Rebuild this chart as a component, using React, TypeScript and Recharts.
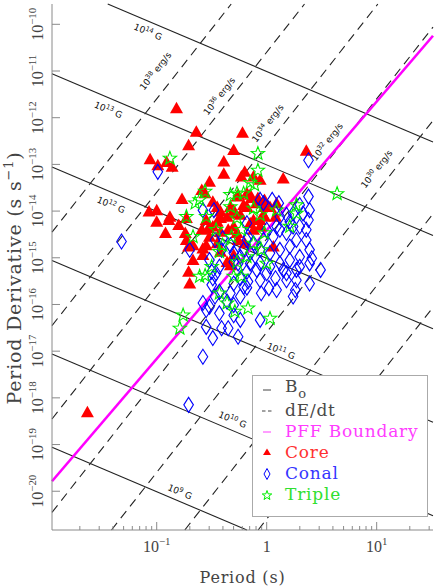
import React from 'react';
import { ScatterChart, Scatter, XAxis, YAxis, ReferenceLine, Legend } from 'recharts';

// [log10 P (s), log10 Pdot (s/s)]
const core: [number, number][] = [
  [-0.82, -11.80], [-0.64, -12.30], [-0.22, -12.32], [-0.71, -12.59], [-1.06, -12.89], [-0.99, -13.02],
  [-0.91, -12.95], [-0.86, -13.05], [-0.30, -12.69], [-0.39, -12.94], [-0.39, -13.20], [-0.52, -13.37],
  [-0.56, -13.62], [-0.20, -13.16], [-0.23, -13.26], [-0.12, -13.26], [-0.06, -13.33], [0.15, -13.30],
  [0.36, -12.71], [-0.77, -13.74], [-0.27, -13.69], [-0.18, -13.62], [-0.59, -13.55], [-0.26, -13.65],
  [-0.14, -13.72], [-0.08, -13.72], [-0.33, -13.91], [-0.18, -13.91], [-0.09, -13.83], [0.03, -13.91],
  [-0.42, -14.01], [-0.30, -13.98], [-0.49, -13.80], [-0.42, -14.15], [-0.36, -14.12], [-0.24, -14.08],
  [-0.55, -14.19], [-0.49, -14.33], [-0.30, -14.33], [-0.15, -14.26], [-0.06, -14.19], [-0.02, -14.12],
  [-0.59, -14.40], [-0.42, -14.44], [-0.27, -14.47], [-0.12, -14.40], [-0.52, -14.55], [-1.00, -14.23],
  [-0.89, -14.19], [-0.80, -14.30], [-0.92, -14.47], [-0.74, -14.47], [-0.53, -14.37], [-0.45, -14.23],
  [-0.45, -14.69], [-0.35, -14.40], [-0.29, -14.05], [-0.21, -13.87], [-0.15, -13.65], [-0.02, -13.91],
  [-0.03, -14.08], [-0.12, -14.19], [-0.06, -14.33], [0.08, -14.12], [-0.73, -14.62], [-0.67, -14.73],
  [-0.58, -14.80], [-0.42, -14.87], [-0.67, -15.05], [-0.71, -15.30], [-0.36, -15.09], [-0.30, -14.94],
  [-0.26, -14.62], [-0.20, -14.69], [-1.00, -13.98], [-1.07, -14.01], [-0.73, -14.15], [-0.71, -14.76],
  [-0.70, -15.55], [-0.58, -14.94], [-0.55, -14.73], [0.06, -14.76], [-0.33, -15.16], [-0.02, -13.76],
  [0.09, -13.83], [-1.63, -18.31], [-0.88, -14.12], [-0.45, -13.91],
];

const conal: [number, number][] = [
  [-0.49, -15.44], [-0.50, -15.58], [-0.58, -15.97], [-0.55, -16.12], [-0.47, -15.83], [-0.43, -15.73],
  [-0.33, -15.76], [-0.36, -15.94], [-0.30, -16.01], [-0.24, -15.83], [-0.21, -15.62], [-0.24, -15.44],
  [-0.17, -15.51], [-0.41, -16.51], [-0.49, -16.72], [-0.35, -16.51], [-0.26, -16.69], [-0.24, -16.33],
  [-0.30, -16.23], [-0.43, -16.19], [-0.58, -17.12], [-0.71, -18.15], [-0.06, -16.33], [-0.05, -15.76],
  [0.02, -15.65], [0.08, -15.44], [0.00, -15.33], [-0.09, -15.26], [0.15, -15.26], [0.24, -15.83],
  [0.26, -15.69], [0.18, -15.48], [0.30, -15.19], [0.39, -15.12], [0.49, -15.26], [-0.18, -15.30],
  [-0.15, -15.12], [-0.26, -15.12], [0.38, -12.91], [0.38, -13.69], [0.30, -13.87], [0.24, -14.05],
  [0.33, -14.05], [0.38, -14.19], [0.36, -14.40], [0.30, -14.33], [0.24, -14.33], [0.18, -14.47],
  [0.21, -14.23], [0.12, -14.12], [0.09, -14.33], [0.06, -14.55], [0.00, -14.40], [-0.03, -14.62],
  [-0.06, -14.83], [-0.12, -14.69], [-0.18, -14.62], [-0.21, -14.83], [-0.15, -14.90], [-0.24, -14.98],
  [-0.30, -14.90], [0.03, -14.90], [0.12, -14.83], [0.21, -14.76], [0.27, -14.62], [0.36, -14.62],
  [0.39, -14.83], [0.30, -14.98], [0.21, -15.05], [0.12, -15.12], [0.03, -15.19], [-0.06, -15.12],
  [-0.30, -15.55], [-0.18, -15.64], [-0.06, -15.48], [0.18, -15.33], [0.27, -15.26], [0.41, -15.01],
  [0.09, -15.69], [-0.46, -15.33], [-0.43, -15.19], [-0.50, -15.30], [-0.52, -16.05], [-0.55, -16.48],
  [-1.32, -14.65], [-0.99, -13.16], [-0.58, -13.98], [-0.48, -13.98], [-0.06, -13.76], [-0.18, -14.26],
  [-0.70, -14.83], [-0.41, -14.83], [-0.33, -14.73], [0.11, -13.83], [0.39, -13.98], [0.18, -14.08],
  [0.12, -14.40], [-0.47, -14.62], [-0.40, -14.58], [-0.52, -15.05], [-0.30, -15.09], [-0.17, -14.55],
  [-0.03, -13.83], [0.05, -13.76], [0.39, -15.55], [0.27, -15.48],
];

const triple: [number, number][] = [
  [-0.88, -12.87], [-0.08, -12.77], [-0.08, -13.13], [-0.15, -13.39], [-0.11, -13.44], [-0.56, -13.58],
  [0.64, -13.63], [-0.33, -13.65], [-0.27, -13.62], [-0.65, -13.83], [-0.21, -13.62], [-0.12, -13.94],
  [-0.55, -14.12], [-0.27, -14.15], [-0.06, -14.08], [0.09, -13.98], [0.27, -14.05], [0.21, -14.33],
  [-0.73, -14.12], [-0.33, -13.91], [-0.46, -14.40], [-0.67, -14.55], [-0.40, -14.73], [-0.32, -14.55],
  [-0.23, -14.40], [-0.12, -14.69], [-0.02, -14.47], [-0.18, -14.98], [-0.27, -15.09], [-0.50, -15.19],
  [-0.61, -15.40], [-0.76, -16.23], [-0.79, -16.51], [-0.43, -15.76], [-0.36, -15.97], [-0.29, -16.15],
  [-0.17, -16.08], [0.03, -16.30], [-0.23, -15.40], [0.00, -15.12], [-0.61, -13.76], [-0.56, -15.38],
  [0.27, -13.87], [-0.30, -15.40], [-0.43, -14.87], [-0.05, -14.83],
];

// constant-B lines (log10 G) and spin-down luminosity lines (log10 erg/s)
const bFields = [9, 10, 11, 12, 13, 14];
const edots = [26, 28, 30, 32, 34, 36, 38];
// PFF boundary, two points
const pffBoundary: [number, number][] = [[-1.95, -19.78], [1.51, -10.25]];

// where the line labels sit
const bLabels = [
  { exp: 14, at: [-1.08, -10.165] }, { exp: 13, at: [-1.44, -11.835] }, { exp: 12, at: [-1.415, -13.87] },
  { exp: 11, at: [0.13, -17.0] }, { exp: 10, at: [-0.31, -18.47] }, { exp: 9, at: [-0.79, -20.015] },
];
const edotLabels = [
  { exp: 38, at: [-1.01, -11.0] }, { exp: 36, at: [-0.43, -11.54] }, { exp: 34, at: [0.01, -12.12] },
  { exp: 32, at: [0.55, -12.52] }, { exp: 30, at: [1.0, -13.1] },
];

const xMajor = [-1, 0, 1];
const xDecades = [-2, -1, 0, 1];
const yMajor = [-20, -19, -18, -17, -16, -15, -14, -13, -12, -11, -10];

const X_DOMAIN: [number, number] = [-1.952, 1.512];
const Y_DOMAIN: [number, number] = [-20.83, -9.565];

const xTicks = [
  ...xMajor,
  ...xDecades.flatMap((d) => [2, 3, 4, 5, 6, 7, 8, 9].map((k) => d + Math.log10(k))),
].filter((v) => v >= X_DOMAIN[0] && v <= X_DOMAIN[1]);

const legendRows = [
  { label: 'B', sub: 'o', color: '#4a4a4a', mark: 'solid' },
  { label: 'dE/dt', color: '#4a4a4a', mark: 'dash' },
  { label: 'PFF Boundary', color: '#ff3cff', mark: 'pff' },
  { label: 'Core', color: '#ff3030', mark: 'tri' },
  { label: 'Conal', color: '#3535ff', mark: 'dia' },
  { label: 'Triple', color: '#30e030', mark: 'star' },
];

const AXIS = '#8a8a8a';
const SERIF = '"DejaVu Serif", serif';
const NUM = '"Liberation Serif", serif';

const toPts = (arr: [number, number][]) => arr.map(([x, y]) => ({ x, y }));

// clip y = a + m x to the plotted window
const clipLine = (a: number, m: number) => {
  const e = 1e-6;
  let lo = (Y_DOMAIN[0] - a) / m;
  let hi = (Y_DOMAIN[1] - a) / m;
  if (lo > hi) [lo, hi] = [hi, lo];
  lo = Math.max(lo, X_DOMAIN[0]) + e;
  hi = Math.min(hi, X_DOMAIN[1]) - e;
  if (hi <= lo) return null;
  return [{ x: lo, y: a + m * lo }, { x: hi, y: a + m * hi }];
};

const bLines = bFields.map((b) => ({ b, seg: clipLine(2 * b - 2 * Math.log10(3.2e19), -1) }));
const edotLines = edots.map((e) => ({ e, seg: clipLine(e - Math.log10(4 * Math.PI * Math.PI * 1e45), 3) }));
const pffSlope = (pffBoundary[1][1] - pffBoundary[0][1]) / (pffBoundary[1][0] - pffBoundary[0][0]);
const pffSeg = clipLine(pffBoundary[0][1] - pffSlope * pffBoundary[0][0], pffSlope);

const lineLabels = [
  ...bLabels.map((l) => ({ x: l.at[0], y: l.at[1], exp: l.exp, unit: 'G', angle: 23 })),
  ...edotLabels.map((l) => ({ x: l.at[0], y: l.at[1], exp: l.exp, unit: 'erg/s', angle: -52 })),
];

const isMajor = (v: number) => Math.abs(v - Math.round(v)) < 1e-6;

const powLabel = (v: number, size: number) => {
  const n = Math.round(v);
  if (n === 0) return <tspan>1</tspan>;
  return (
    <>
      <tspan>10</tspan>
      <tspan dy={-size * 0.42} fontSize={size * 0.68}>{n < 0 ? '\u2212' : ''}{Math.abs(n)}</tspan>
    </>
  );
};

const XTick = (props: any) => {
  const { x, y, payload, side } = props;
  const major = isMajor(payload.value);
  const len = major ? 8 : 4;
  const dir = side === 'bottom' ? -1 : 1;
  return (
    <g>
      <line x1={x} y1={y} x2={x} y2={y + dir * len} stroke={AXIS} strokeWidth={1} />
      {side === 'bottom' && major && (
        <text x={x} y={y + 22} textAnchor="middle" fontFamily={NUM} fontSize={16} fill="#444">
          {powLabel(payload.value, 16)}
        </text>
      )}
    </g>
  );
};

const YTick = (props: any) => {
  const { x, y, payload, side } = props;
  const dir = side === 'left' ? 1 : -1;
  return (
    <g>
      <line x1={x} y1={y} x2={x + dir * 8} y2={y} stroke={AXIS} strokeWidth={1} />
      {side === 'left' && (
        <text x={x - 9} y={y} transform={`rotate(-90 ${x - 9} ${y})`} textAnchor="middle"
          fontFamily={NUM} fontSize={16} fill="#444">
          {powLabel(payload.value, 16)}
        </text>
      )}
    </g>
  );
};

const Triangle = ({ cx, cy }: any) => (
  <path d={`M${cx},${cy - 6.5}L${cx + 6.5},${cy + 5}L${cx - 6.5},${cy + 5}Z`} fill="#ff0000" />
);

const Diamond = ({ cx, cy }: any) => (
  <path d={`M${cx},${cy - 7.5}L${cx + 4.8},${cy}L${cx},${cy + 7.5}L${cx - 4.8},${cy}Z`}
    fill="none" stroke="#0000ff" strokeWidth={1.1} />
);

const starPath = (cx: number, cy: number, ro: number, ri: number) => {
  let d = '';
  for (let i = 0; i < 10; i++) {
    const r = i % 2 === 0 ? ro : ri;
    const a = -Math.PI / 2 + (i * Math.PI) / 5;
    d += `${i === 0 ? 'M' : 'L'}${cx + r * Math.cos(a)},${cy + r * Math.sin(a)}`;
  }
  return d + 'Z';
};

const Star = ({ cx, cy }: any) => (
  <path d={starPath(cx, cy, 7, 2.9)} fill="none" stroke="#00ee00" strokeWidth={1.1} />
);

const LineLabel = ({ cx, cy, payload }: any) => (
  <text x={cx} y={cy + 3} transform={`rotate(${payload.angle} ${cx} ${cy})`} textAnchor="middle"
    fontFamily='"DejaVu Sans", sans-serif' fontSize={9} fill="#111">
    <tspan>10</tspan>
    <tspan dy={-3.5} fontSize={6.5}>{payload.exp}</tspan>
    <tspan dy={3.5}> {payload.unit}</tspan>
  </text>
);

const LegendMark = ({ mark }: { mark: string }) => {
  switch (mark) {
    case 'solid':
      return <line x1={6} y1={10} x2={14} y2={10} stroke="#444" strokeWidth={1} />;
    case 'dash':
      return <path d="M5,10h3.5M11,10h3.5" stroke="#444" strokeWidth={1} />;
    case 'pff':
      return <line x1={6} y1={10} x2={14} y2={10} stroke="#ff3cff" strokeWidth={1} />;
    case 'tri':
      return <path d="M10,5.5L14,12L6,12Z" fill="#ff0000" />;
    case 'dia':
      return <path d="M10,4.5L13,10L10,15.5L7,10Z" fill="none" stroke="#0000ff" strokeWidth={1} />;
    default:
      return <path d={starPath(10, 10.5, 5, 2)} fill="none" stroke="#00ee00" strokeWidth={1} />;
  }
};

const LegendBox = () => (
  <div style={{
    position: 'relative', width: 176, height: 142, boxSizing: 'border-box',
    background: '#fff', border: '1px solid #aaa',
  }}>
    {legendRows.map((r, i) => (
      <div key={r.label} style={{
        position: 'absolute', left: 4, top: 3 + i * 21, height: 21, display: 'flex', alignItems: 'center',
        whiteSpace: 'nowrap',
      }}>
        <svg width={20} height={20} style={{ marginRight: 8 }}>
          <LegendMark mark={r.mark} />
        </svg>
        <span style={{ fontFamily: SERIF, fontSize: 17, letterSpacing: 0.8, color: r.color, lineHeight: '21px' }}>
          {r.label}
          {r.sub && <sub style={{ fontSize: 13, verticalAlign: -6 }}>{r.sub}</sub>}
        </span>
      </div>
    ))}
  </div>
);

export default function App() {
  return (
    <div style={{ position: 'absolute', left: 0, top: 0, background: '#fff' }}>
      <ScatterChart width={436} height={587} margin={{ top: 4, right: 3, bottom: 0, left: 0 }}>
        <XAxis xAxisId="b" dataKey="x" type="number" domain={X_DOMAIN} allowDataOverflow ticks={xTicks}
          interval={0} height={57} tickSize={0} tickMargin={0} tickLine={false}
          axisLine={{ stroke: AXIS }} tick={<XTick side="bottom" />}
          label={{ value: 'Period (s)', position: 'insideBottom', offset: 4, fontFamily: SERIF,
            fontSize: 16, fill: '#444', letterSpacing: 0.8 }} />
        <XAxis xAxisId="t" orientation="top" dataKey="x" type="number" domain={X_DOMAIN} allowDataOverflow
          ticks={xTicks} interval={0} height={0} tickSize={0} tickMargin={0} tickLine={false}
          axisLine={{ stroke: AXIS }} tick={<XTick side="top" />} />
        <YAxis yAxisId="l" dataKey="y" type="number" domain={Y_DOMAIN} allowDataOverflow ticks={yMajor}
          interval={0} width={52} tickSize={0} tickMargin={0} tickLine={false}
          axisLine={{ stroke: AXIS }} tick={<YTick side="left" />} />
        <YAxis yAxisId="r" orientation="right" dataKey="y" type="number" domain={Y_DOMAIN} allowDataOverflow
          ticks={yMajor} interval={0} width={0} tickSize={0} tickMargin={0} tickLine={false}
          axisLine={{ stroke: AXIS }} tick={<YTick side="right" />} />

        {bLines.map(({ b, seg }) => seg && (
          <ReferenceLine key={`b${b}`} xAxisId="b" yAxisId="l" segment={seg} ifOverflow="visible"
            stroke="#222" strokeWidth={1.1} />
        ))}
        {edotLines.map(({ e, seg }) => seg && (
          <ReferenceLine key={`e${e}`} xAxisId="b" yAxisId="l" segment={seg} ifOverflow="visible"
            stroke="#222" strokeWidth={1.1} strokeDasharray="9 6" />
        ))}

        <Scatter name="Core" xAxisId="b" yAxisId="l" data={toPts(core)} shape={Triangle} isAnimationActive={false} />
        <Scatter name="Conal" xAxisId="b" yAxisId="l" data={toPts(conal)} shape={Diamond} isAnimationActive={false} />
        <Scatter name="Triple" xAxisId="b" yAxisId="l" data={toPts(triple)} shape={Star} isAnimationActive={false} />
        <Scatter name="labels" xAxisId="b" yAxisId="l" data={lineLabels} shape={LineLabel}
          isAnimationActive={false} legendType="none" />

        {pffSeg && (
          <ReferenceLine xAxisId="b" yAxisId="l" segment={pffSeg} ifOverflow="visible"
            stroke="#ff00ff" strokeWidth={2.6} />
        )}

        <Legend layout="horizontal" verticalAlign="middle" align="center" content={() => <LegendBox />}
          wrapperStyle={{ left: 252, top: 375, width: 176, height: 142 }} />
      </ScatterChart>
      <svg width={30} height={587} style={{ position: 'absolute', left: 0, top: 0, pointerEvents: 'none' }}>
        <text x={21} y={278} transform="rotate(-90 21 278)" textAnchor="middle" fontFamily={SERIF}
          fontSize={19} letterSpacing={0.8} fill="#444">
          Period Derivative (s s<tspan dy={-8} fontSize={13}>{'\u2212'}1</tspan><tspan dy={8}>)</tspan>
        </text>
      </svg>
    </div>
  );
}
